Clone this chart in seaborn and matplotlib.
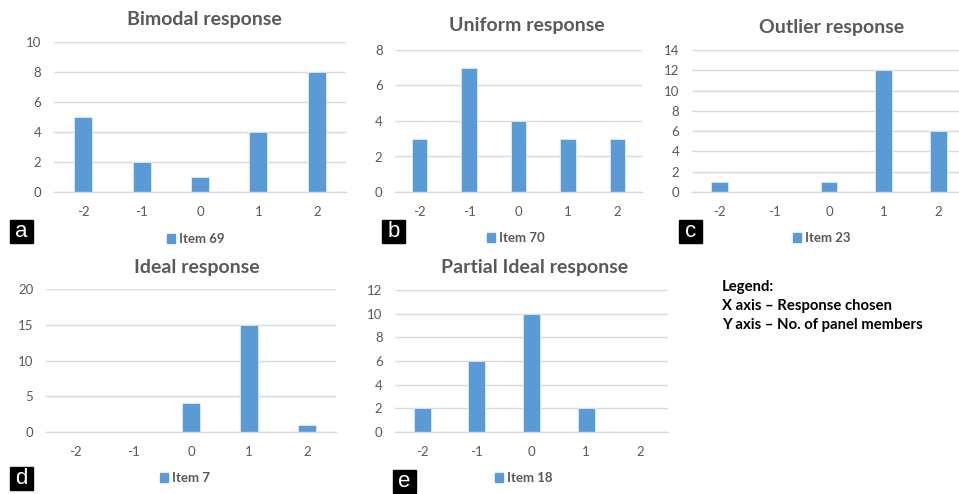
import matplotlib
matplotlib.use("Agg")
import matplotlib.pyplot as plt
from matplotlib.patches import Patch, Rectangle
import pandas as pd
import seaborn as sns

# Response categories (x axis) shared by all panels
responses = ["-2", "-1", "0", "1", "2"]

bimodal = [5, 2, 1, 4, 8]        # Item 69
uniform = [3, 7, 4, 3, 3]        # Item 70
outlier = [1, 0, 1, 12, 6]       # Item 23
ideal = [0, 0, 4, 15, 1]         # Item 7
partial_ideal = [2, 6, 10, 2, 0] # Item 18

titles = ["Bimodal response", "Uniform response", "Outlier response",
          "Ideal response", "Partial Ideal response"]
items = ["Item 69", "Item 70", "Item 23", "Item 7", "Item 18"]
letters = ["a", "b", "c", "d", "e"]
series = [bimodal, uniform, outlier, ideal, partial_ideal]
yticks = [range(0, 11, 2), range(0, 9, 2), range(0, 15, 2), range(0, 21, 5), range(0, 13, 2)]

legend_lines = ["Legend:", "X axis \u2013 Response chosen", "Y axis \u2013 No. of panel members"]

W, H = 959, 494
BLUE = "#5B9BD5"
GRID = "#D9D9D9"
GREY = "#595959"

sns.set_theme(style="white")
plt.rcParams['font.family'] = ['Lato', 'DejaVu Sans']

fig = plt.figure(figsize=(W / 100, H / 100), dpi=100)

# pixel layout: (left, right, top, bottom) of plot area
boxes = [(54, 346, 42, 192), (395, 642, 50, 192), (692, 966, 50, 192),
         (46, 336, 289, 432), (395, 668, 290, 432)]
title_pos = [(204, 19), (527, 26), (832, 27), (197, 267), (535, 268)]
legend_pos = [(196, 239), (516, 238), (822, 238), (185, 478), (524, 478)]
letter_pos = [(10, 220), (382, 220), (679, 220), (10, 467), (393, 470)]


def px(x, y):
    return x / W, 1 - y / H


for i in range(5):
    l, r, t, b = boxes[i]
    ax = fig.add_axes([l / W, 1 - b / H, (r - l) / W, (b - t) / H])
    df = pd.DataFrame({"response": responses, "count": series[i]})
    sns.barplot(data=df, x="response", y="count", order=responses, color=BLUE,
                saturation=1, width=0.31, linewidth=0.6, edgecolor="#DDEAF6", ax=ax)
    ax.set_xlim(-0.5, 4.5)
    yt = list(yticks[i])
    ax.set_ylim(0, yt[-1])
    ax.set_yticks(yt)
    ax.set_xlabel("")
    ax.set_ylabel("")
    ax.grid(axis="y", color=GRID, linewidth=1)
    ax.set_axisbelow(True)
    for s in ["top", "right", "left"]:
        ax.spines[s].set_visible(False)
    ax.spines["bottom"].set_color(GRID)
    ax.spines["bottom"].set_linewidth(1)
    ax.tick_params(axis="both", length=0, labelsize=9.5, colors=GREY)
    ax.tick_params(axis="y", pad=9)
    ax.tick_params(axis="x", pad=10)
    for lab in ax.get_xticklabels() + ax.get_yticklabels():
        lab.set_color(GREY)

    tx, ty = title_pos[i]
    fig.text(*px(tx, ty), titles[i], ha="center", va="center",
             fontsize=14, fontweight="bold", color=GREY)

    lx, ly = legend_pos[i]
    fig.legend(handles=[Patch(color=BLUE, label=items[i])], loc="center",
               bbox_to_anchor=px(lx, ly), frameon=False,
               handlelength=0.6, handleheight=0.6, handletextpad=0.3,
               labelcolor=GREY, prop={"weight": "bold", "size": 9.5})

    bx, by = letter_pos[i]
    fig.patches.append(Rectangle(px(bx, by + 23), 23 / W, 23 / H, color="black",
                                 transform=fig.transFigure, figure=fig))
    fig.text(*px(bx + 11.5, by + 11), letters[i], ha="center", va="center",
             fontsize=16, color="white", family="Liberation Sans")

for j, line in enumerate(legend_lines):
    fig.text(*px(722, 287 + j * 19), line, ha="left", va="center",
             fontsize=10.7, fontweight="bold", color="black")

fig.savefig("out.png", dpi=100)
